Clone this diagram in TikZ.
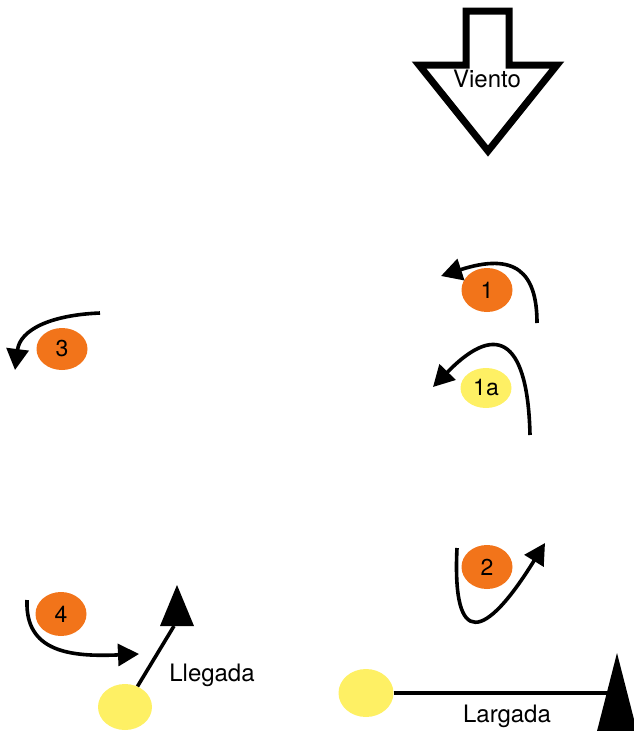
\documentclass[tikz,border=0pt]{standalone}
\usepackage{fontspec}
\setmainfont{TeX Gyre Heros}
\usetikzlibrary{arrows.meta,shapes.geometric}
\definecolor{orng}{RGB}{242,116,26}
\definecolor{ylw}{RGB}{254,240,100}
\begin{document}
\begin{tikzpicture}[x=1pt,y=-1pt,
  buoy/.style={ellipse,inner sep=0pt,minimum width=51pt,minimum height=44pt,font=\fontsize{23}{23}\selectfont},
  om/.style={buoy,fill=orng},
  ym/.style={buoy,fill=ylw},
  turn/.style={line width=3.6pt,-{Triangle[length=21pt,width=22pt]}},
  lbl/.style={font=\fontsize{24}{24}\selectfont}]
\useasboundingbox (0,0) rectangle (634,731);
% wind arrow
\draw[line width=7pt,line join=miter,miter limit=20]
  (466,11) -- (509,11) -- (509,65) -- (557,65) -- (488,151) -- (419,65) -- (466,65) -- cycle;
\node[lbl] (viento) at (487,79) {Viento};
% marks
\node[om] (m1) at (487,290) {1};
\node[ym,minimum height=40pt] (m1a) at (486,388) {1a};
\node[om,minimum height=42pt] (m3) at (62,349) {3};
\node[om] (m2) at (487,567) {2};
\node[om] (m4) at (61,614) {4};
\node[ym,minimum width=54pt,minimum height=46pt] (yl) at (125,707) {};
\node[ym,minimum width=55pt,minimum height=48pt] (ys) at (366,693) {};
% turning arrows
\coordinate (a1s) at (537,323); \coordinate (a1e) at (441,276);
\draw[turn] (a1s) .. controls (537,272) and (515,252) .. (a1e);
\coordinate (a1as) at (530,435); \coordinate (a1ae) at (433,387);
\draw[turn] (a1as) .. controls (528,345) and (500,318) .. (a1ae);
\coordinate (a3s) at (100,313); \coordinate (a3e) at (15,370);
\draw[turn] (a3s) .. controls (50,315) and (20,330) .. (a3e);
\coordinate (a2s) at (457,548); \coordinate (a2e) at (545,543);
\draw[turn] (a2s) .. controls (452,650) and (485,640) .. (a2e);
\coordinate (a4s) at (27,600); \coordinate (a4e) at (139,654);
\draw[turn] (a4s) .. controls (25,652) and (70,657) .. (a4e);
% finish (Llegada)
\coordinate (lhead) at (174,626);
\draw[line width=3.6pt] (yl) -- (lhead);
\fill (177,585) -- (194,626) -- (160,626) -- cycle;
\node[lbl] (llegada) at (212,675) {Llegada};
% start (Largada)
\coordinate (lgt) at (608,693);
\draw[line width=3.6pt] (ys) -- (lgt);
\fill (617,653) -- (638,735) -- (596,735) -- cycle;
\node[lbl] (largada) at (507,716) {Largada};
\end{tikzpicture}
\end{document}
